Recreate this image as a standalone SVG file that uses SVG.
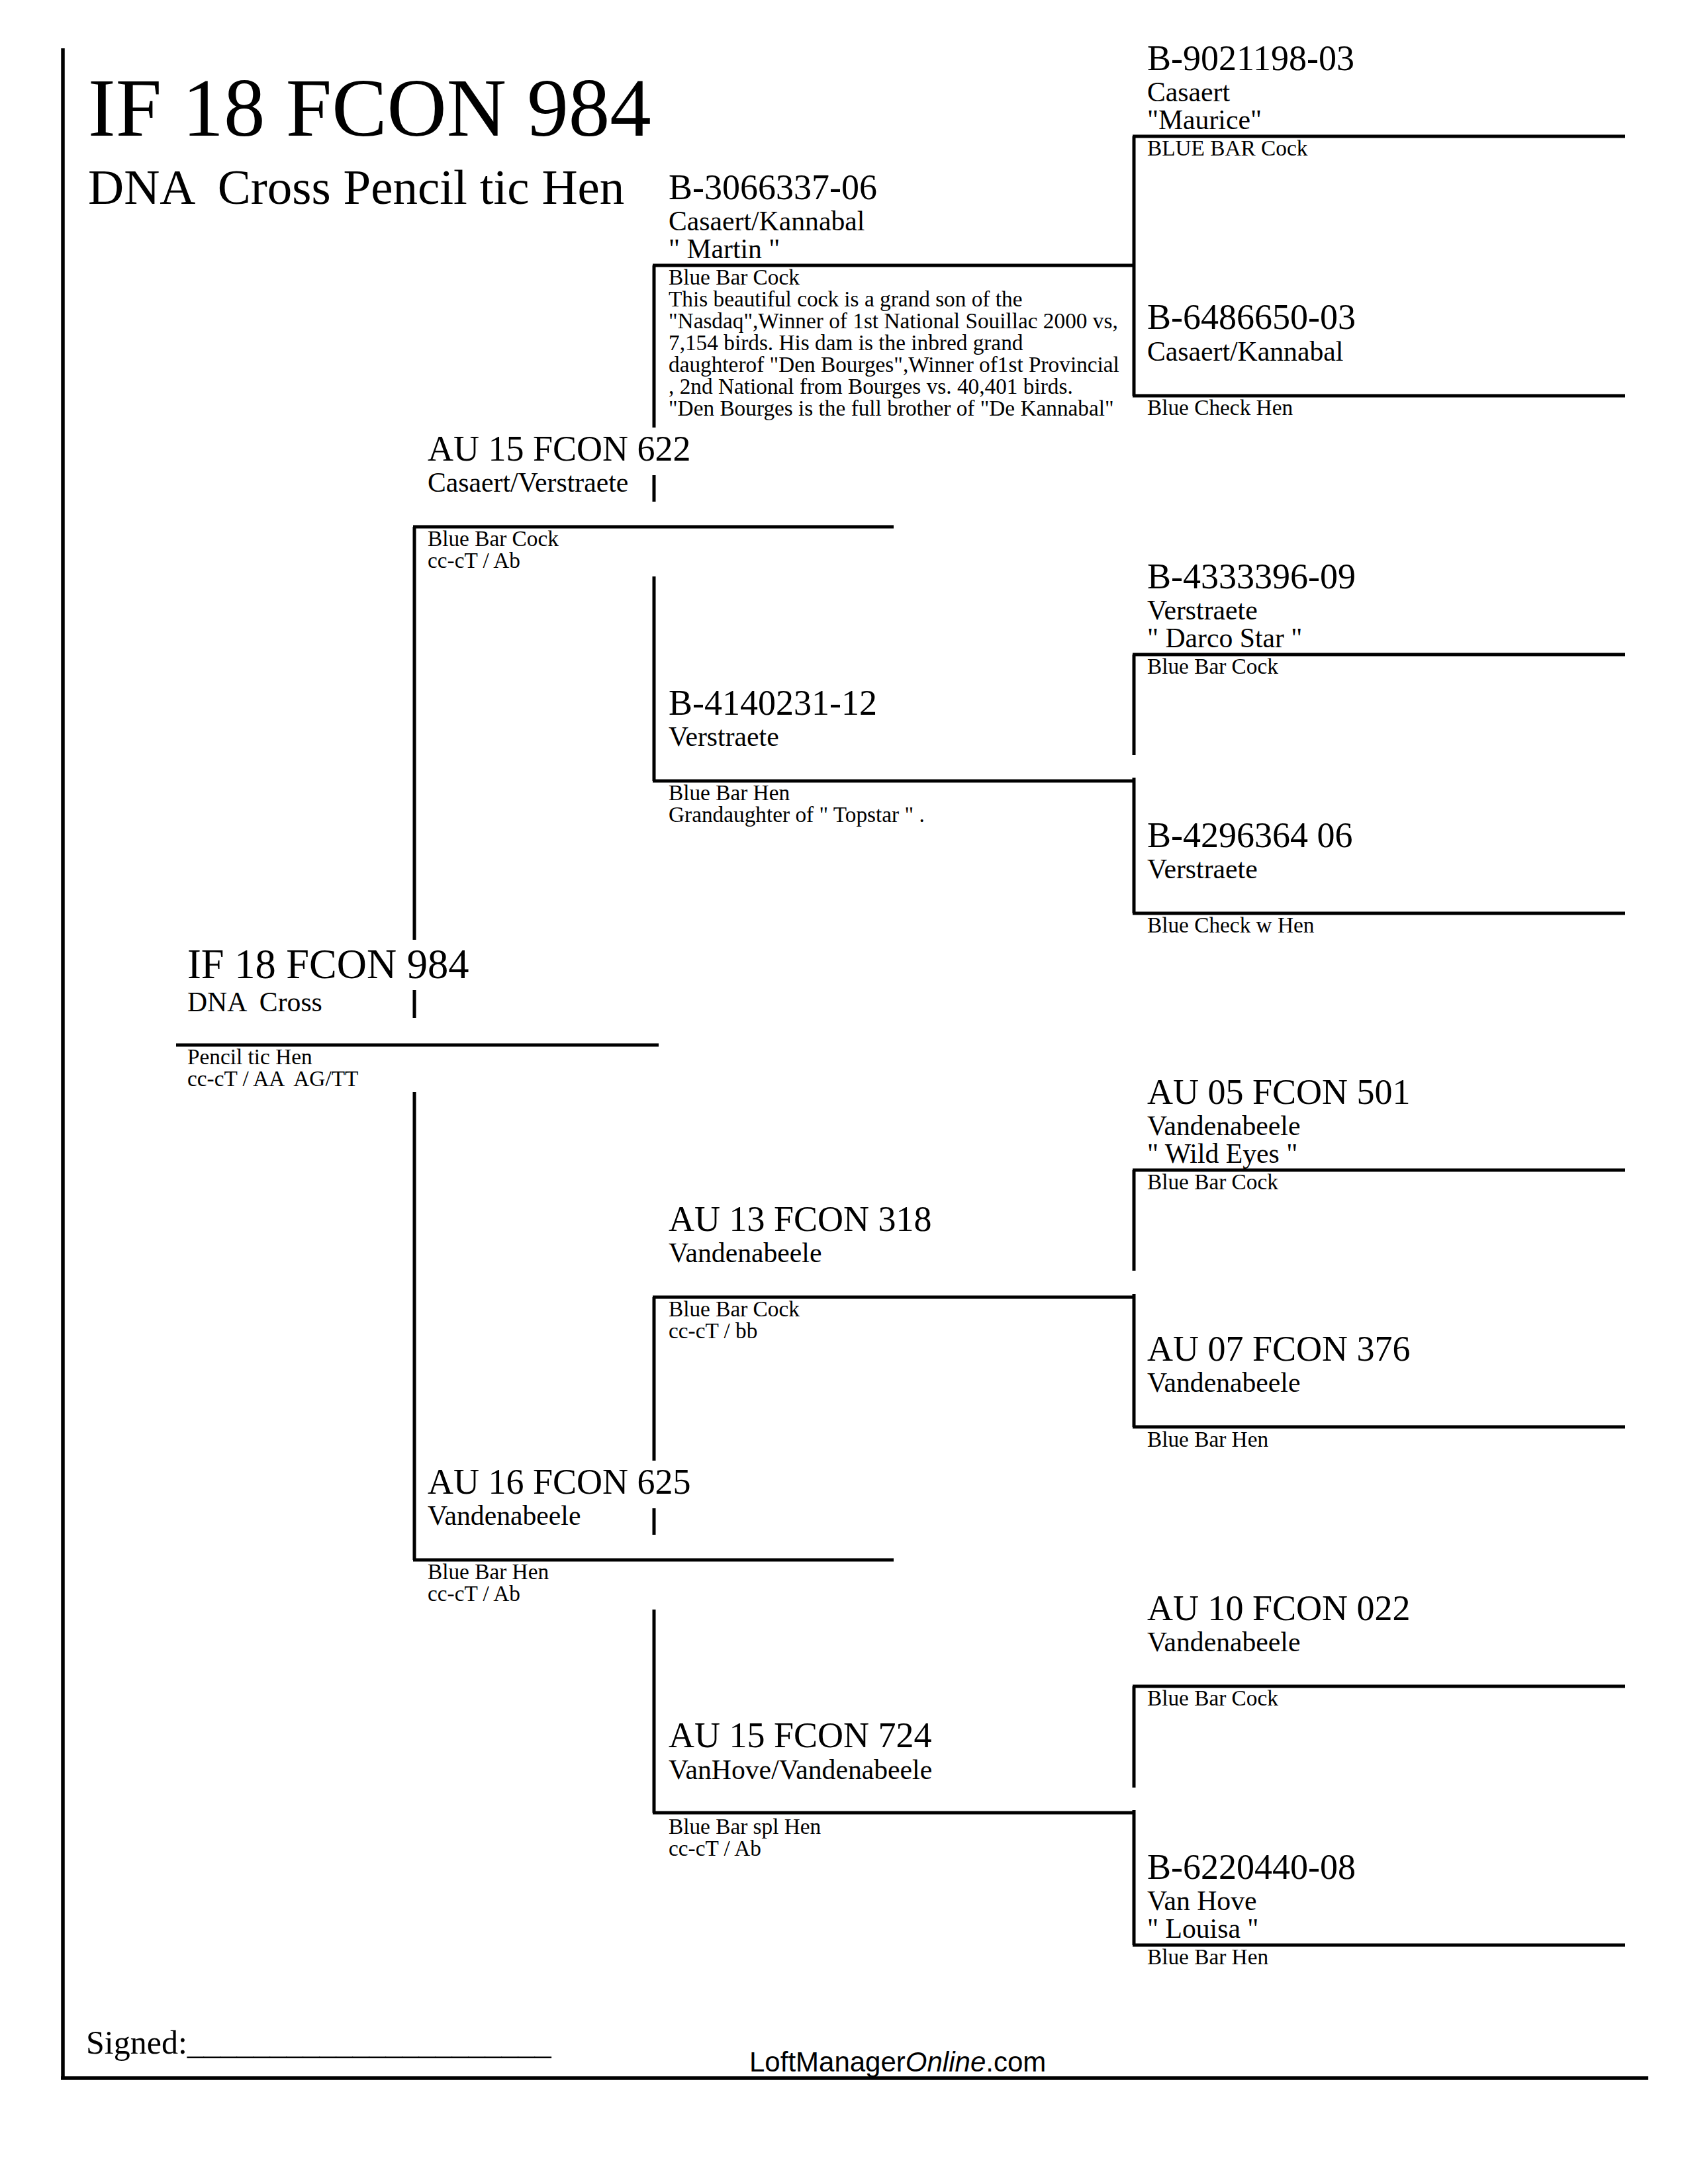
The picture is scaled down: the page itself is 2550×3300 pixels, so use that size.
<svg xmlns="http://www.w3.org/2000/svg" width="2550" height="3300" viewBox="0 0 2550 3300">
<style>
text{font-family:'Liberation Serif','Times New Roman',serif;fill:#000}
.t{font-size:125px}
.st{font-size:75px}
.n1{font-size:62.5px}
.n{font-size:54px}
.b{font-size:41.7px}
.s{font-size:33.3px}
.sig{font-size:50px}
.lmo{font-family:'Liberation Sans',Arial,sans-serif;font-size:42px}
.ln{stroke:#000;stroke-width:5;fill:none}
.fr{stroke:#000;stroke-width:5.5;fill:none}
</style>
<rect x="0" y="0" width="2550" height="3300" fill="#fff"/>
<g id="frame">
<line class="fr" x1="95" y1="73" x2="95" y2="3142"/>
<line class="fr" x1="92" y1="3140" x2="2490" y2="3140"/>
</g>
<g id="title">
<text class="t" x="133" y="205">IF 18 FCON 984</text>
<text class="st" x="133" y="308" xml:space="preserve">DNA  Cross Pencil tic Hen</text>
</g>
<g id="connectors">
<line class="ln" x1="266" y1="1579" x2="995" y2="1579"/>
<line class="ln" x1="626" y1="796" x2="626" y2="1420"/>
<line class="ln" x1="626" y1="1496" x2="626" y2="1538"/>
<line class="ln" x1="626" y1="1650" x2="626" y2="2357"/>
<line class="ln" x1="624" y1="796" x2="1350" y2="796"/>
<line class="ln" x1="624" y1="2357" x2="1350" y2="2357"/>
<line class="ln" x1="988" y1="401" x2="988" y2="646"/>
<line class="ln" x1="988" y1="718" x2="988" y2="758"/>
<line class="ln" x1="988" y1="871" x2="988" y2="1180"/>
<line class="ln" x1="988" y1="1960" x2="988" y2="2207"/>
<line class="ln" x1="988" y1="2279" x2="988" y2="2319"/>
<line class="ln" x1="988" y1="2432" x2="988" y2="2739"/>
<line class="ln" x1="986" y1="401" x2="1713" y2="401"/>
<line class="ln" x1="986" y1="1180" x2="1713" y2="1180"/>
<line class="ln" x1="986" y1="1960" x2="1713" y2="1960"/>
<line class="ln" x1="986" y1="2739" x2="1713" y2="2739"/>
<line class="ln" x1="1713" y1="206" x2="1713" y2="598"/>
<line class="ln" x1="1713" y1="989" x2="1713" y2="1141"/>
<line class="ln" x1="1713" y1="1175" x2="1713" y2="1380"/>
<line class="ln" x1="1713" y1="1768" x2="1713" y2="1920"/>
<line class="ln" x1="1713" y1="1955" x2="1713" y2="2156"/>
<line class="ln" x1="1713" y1="2548" x2="1713" y2="2701"/>
<line class="ln" x1="1713" y1="2735" x2="1713" y2="2939"/>
<line class="ln" x1="1711" y1="206" x2="2455" y2="206"/>
<line class="ln" x1="1711" y1="598" x2="2455" y2="598"/>
<line class="ln" x1="1711" y1="989" x2="2455" y2="989"/>
<line class="ln" x1="1711" y1="1380" x2="2455" y2="1380"/>
<line class="ln" x1="1711" y1="1768" x2="2455" y2="1768"/>
<line class="ln" x1="1711" y1="2156" x2="2455" y2="2156"/>
<line class="ln" x1="1711" y1="2548" x2="2455" y2="2548"/>
<line class="ln" x1="1711" y1="2939" x2="2455" y2="2939"/>
</g>
<g id="subject">
<text class="n1" x="283" y="1478">IF 18 FCON 984</text>
<text class="b" x="283" y="1528" xml:space="preserve">DNA  Cross</text>
<text class="s" x="283" y="1608">Pencil tic Hen</text>
<text class="s" x="283" y="1641" xml:space="preserve">cc-cT / AA  AG/TT</text>
</g>
<g id="sire">
<text class="n" x="646" y="696">AU 15 FCON 622</text>
<text class="b" x="646" y="743">Casaert/Verstraete</text>
<text class="s" x="646" y="825">Blue Bar Cock</text>
<text class="s" x="646" y="858">cc-cT / Ab</text>
</g>
<g id="dam">
<text class="n" x="646" y="2257">AU 16 FCON 625</text>
<text class="b" x="646" y="2304">Vandenabeele</text>
<text class="s" x="646" y="2386">Blue Bar Hen</text>
<text class="s" x="646" y="2419">cc-cT / Ab</text>
</g>
<g id="ss">
<text class="n" x="1010" y="301">B-3066337-06</text>
<text class="b" x="1010" y="348">Casaert/Kannabal</text>
<text class="b" x="1010" y="390">" Martin "</text>
<text class="s" x="1010" y="430">Blue Bar Cock</text>
<text class="s" x="1010" y="463">This beautiful cock is a grand son of the</text>
<text class="s" x="1010" y="496">"Nasdaq",Winner of 1st National Souillac 2000 vs,</text>
<text class="s" x="1010" y="529">7,154 birds. His dam is the inbred grand</text>
<text class="s" x="1010" y="562">daughterof "Den Bourges",Winner of1st Provincial</text>
<text class="s" x="1010" y="595">, 2nd National from Bourges vs. 40,401 birds.</text>
<text class="s" x="1010" y="628">"Den Bourges is the full brother of "De Kannabal"</text>
</g>
<g id="sd">
<text class="n" x="1010" y="1080">B-4140231-12</text>
<text class="b" x="1010" y="1127">Verstraete</text>
<text class="s" x="1010" y="1209">Blue Bar Hen</text>
<text class="s" x="1010" y="1242">Grandaughter of " Topstar " .</text>
</g>
<g id="ds">
<text class="n" x="1010" y="1860">AU 13 FCON 318</text>
<text class="b" x="1010" y="1907">Vandenabeele</text>
<text class="s" x="1010" y="1989">Blue Bar Cock</text>
<text class="s" x="1010" y="2022">cc-cT / bb</text>
</g>
<g id="dd">
<text class="n" x="1010" y="2640">AU 15 FCON 724</text>
<text class="b" x="1010" y="2688">VanHove/Vandenabeele</text>
<text class="s" x="1010" y="2771">Blue Bar spl Hen</text>
<text class="s" x="1010" y="2804">cc-cT / Ab</text>
</g>
<g id="sss">
<text class="n" x="1733" y="106">B-9021198-03</text>
<text class="b" x="1733" y="153">Casaert</text>
<text class="b" x="1733" y="195">"Maurice"</text>
<text class="s" x="1733" y="235">BLUE BAR Cock</text>
</g>
<g id="ssd">
<text class="n" x="1733" y="497">B-6486650-03</text>
<text class="b" x="1733" y="545">Casaert/Kannabal</text>
<text class="s" x="1733" y="627">Blue Check Hen</text>
</g>
<g id="sds">
<text class="n" x="1733" y="889">B-4333396-09</text>
<text class="b" x="1733" y="936">Verstraete</text>
<text class="b" x="1733" y="978">" Darco Star "</text>
<text class="s" x="1733" y="1018">Blue Bar Cock</text>
</g>
<g id="sdd">
<text class="n" x="1733" y="1280">B-4296364 06</text>
<text class="b" x="1733" y="1327">Verstraete</text>
<text class="s" x="1733" y="1409">Blue Check w Hen</text>
</g>
<g id="dss">
<text class="n" x="1733" y="1668">AU 05 FCON 501</text>
<text class="b" x="1733" y="1715">Vandenabeele</text>
<text class="b" x="1733" y="1757">" Wild Eyes "</text>
<text class="s" x="1733" y="1797">Blue Bar Cock</text>
</g>
<g id="dsd">
<text class="n" x="1733" y="2056">AU 07 FCON 376</text>
<text class="b" x="1733" y="2103">Vandenabeele</text>
<text class="s" x="1733" y="2186">Blue Bar Hen</text>
</g>
<g id="dds">
<text class="n" x="1733" y="2448">AU 10 FCON 022</text>
<text class="b" x="1733" y="2495">Vandenabeele</text>
<text class="s" x="1733" y="2577">Blue Bar Cock</text>
</g>
<g id="ddd">
<text class="n" x="1733" y="2839">B-6220440-08</text>
<text class="b" x="1733" y="2886">Van Hove</text>
<text class="b" x="1733" y="2928">" Louisa "</text>
<text class="s" x="1733" y="2968">Blue Bar Hen</text>
</g>
<g id="footer">
<text class="sig" x="130" y="3103">Signed:______________________</text>
<text class="lmo" x="1132" y="3130">LoftManager<tspan font-style="italic">Online</tspan>.com</text>
</g>
</svg>
